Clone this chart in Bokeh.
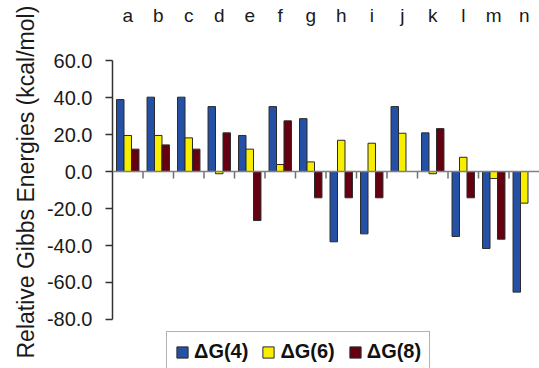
import numpy as np
from bokeh.plotting import figure
from bokeh.models import (ColumnDataSource, Range1d, Span, Legend, LegendItem, Title,
                          LinearAxis, FixedTicker, NumeralTickFormatter)
from bokeh.embed import file_html
from bokeh.resources import INLINE

categories = ["a", "b", "c", "d", "e", "f", "g", "h", "i", "j", "k", "l", "m", "n"]
dG4 = [38.9, 40.2, 40.2, 35.1, 19.5, 35.1, 28.6, -38.0, -33.7, 35.1, 20.9, -35.1, -41.6, -65.2]
dG6 = [19.5, 19.5, 18.2, -1.2, 12.1, 3.8, 5.2, 16.9, 15.3, 20.7, -1.2, 7.7, -3.8, -17.1]
dG8 = [12.1, 14.4, 12.1, 20.9, -26.5, 27.4, -14.2, -14.2, -14.2, np.nan, 23.2, -14.2, -36.6, np.nan]
series_names = ["\u0394G(4)", "\u0394G(6)", "\u0394G(8)"]
colors = ["#2450A6", "#F7EE00", "#650010"]
y_ticks = [-80, -60, -40, -20, 0, 20, 40, 60]
y_title = "Relative Gibbs Energies (kcal/mol)"

FONT = "Liberation Sans"
idx = np.arange(len(categories))
src = ColumnDataSource(dict(x=idx, g4=dG4, g6=dG6, g8=dG8))

p = figure(width=539, height=368, output_backend="svg", toolbar_location=None,
           x_range=Range1d(-0.5, len(categories) - 0.5), y_range=Range1d(-106.5, 70.3),
           min_border_left=112, min_border_right=0, min_border_top=41, min_border_bottom=0,
           x_axis_location=None, y_axis_location=None)
p.outline_line_color = None
p.xgrid.visible = False
p.ygrid.visible = False

bw = 0.245
renderers = []
for k, (col, c) in enumerate(zip(["g4", "g6", "g8"], colors)):
    r = p.vbar(x=idx + (k - 1) * bw, top=src.data[col], bottom=0, width=bw,
               fill_color=c, line_color="#2a2a2a", line_width=1)
    renderers.append(r)

# zero line (category axis) and its boundary ticks
p.add_layout(Span(location=0, dimension="width", line_color="#808080", line_width=1.5))
bnd = idx[:-1] + 0.5
p.segment(x0=bnd, x1=bnd, y0=np.zeros(len(bnd)), y1=np.full(len(bnd), -3.8),
          line_color="#707070", line_width=1.5)

# y axis
yax = LinearAxis(ticker=FixedTicker(ticks=y_ticks), bounds=(min(y_ticks), max(y_ticks)),
                 formatter=NumeralTickFormatter(format="0.0"))
yax.major_label_text_font = FONT
yax.major_label_text_font_size = "20px"
yax.major_label_text_color = "#1a1a1a"
yax.major_label_standoff = 13
yax.major_tick_out = 7
yax.major_tick_in = 0
yax.minor_tick_out = 0
yax.minor_tick_in = 0
yax.axis_line_color = "#333333"
yax.axis_line_width = 1.5
yax.major_tick_line_color = "#333333"
yax.major_tick_line_width = 1.5
p.add_layout(yax, "left")

ttl = Title(text=y_title, align="left", offset=10, text_font=FONT,
            text_font_style="normal", text_font_size="23px", text_color="#1a1a1a",
            standoff=10)
p.add_layout(ttl, "left")

# category labels on top
xax = LinearAxis(ticker=FixedTicker(ticks=list(idx)),
                 major_label_overrides={int(i): s for i, s in zip(idx, categories)})
xax.axis_line_color = None
xax.major_tick_line_color = None
xax.minor_tick_line_color = None
xax.major_label_text_font = FONT
xax.major_label_text_font_size = "19px"
xax.major_label_text_color = "#1a1a1a"
xax.major_label_standoff = 10
p.add_layout(xax, "above")

legend = Legend(items=[LegendItem(label=n, renderers=[r]) for n, r in zip(series_names, renderers)],
                orientation="horizontal", location=(54, -4),
                label_text_font=FONT, label_text_font_style="bold",
                label_text_font_size="20px", label_text_color="#111111",
                glyph_width=14, glyph_height=14, label_standoff=5, spacing=13,
                padding=8, margin=0, border_line_color="#666666", border_line_width=1.5,
                background_fill_color="white", background_fill_alpha=1)
p.add_layout(legend, "center")

open("out.html", "w").write(file_html(p, INLINE))
